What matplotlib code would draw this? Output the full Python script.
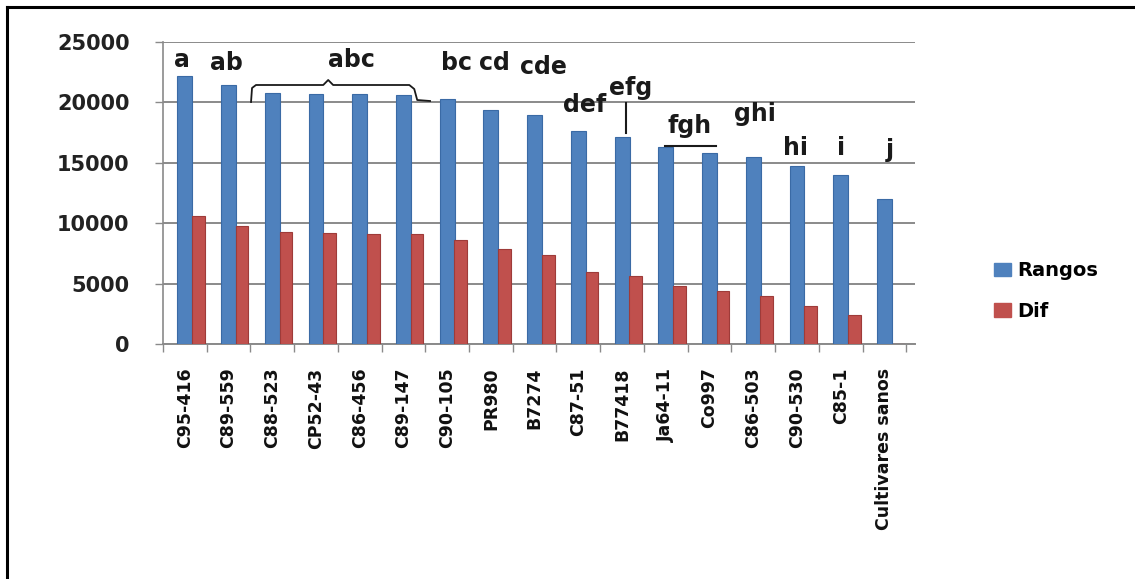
import matplotlib
matplotlib.use("Agg")
import matplotlib.pyplot as plt
from matplotlib.lines import Line2D
from matplotlib.patches import Patch
import numpy as np

categories = ["C95-416", "C89-559", "C88-523", "CP52-43", "C86-456", "C89-147",
              "C90-105", "PR980", "B7274", "C87-51", "B77418", "Ja64-11",
              "Co997", "C86-503", "C90-530", "C85-1", "Cultivares sanos"]
rangos = [22200, 21400, 20800, 20700, 20700, 20650, 20250, 19400, 18950,
          17600, 17100, 16300, 15850, 15500, 14700, 13950, 12000]
dif = [10600, 9800, 9300, 9150, 9100, 9100, 8600, 7850, 7350,
       6000, 5600, 4800, 4350, 3950, 3150, 2400, 0]
letters = ["a", "ab", "abc", "bc", "cd", "cde", "def", "efg", "fgh", "ghi", "hi", "i", "j"]
yticks = [0, 5000, 10000, 15000, 20000, 25000]

BLUE = "#4F81BD"
RED = "#C0504D"
FONT = ["DejaVu Sans"]

fig = plt.figure(figsize=(11.35, 5.79), dpi=100)
ax = fig.add_axes([163/1135, 1-344/579, 752/1135, 302/579])

x = np.arange(len(categories))
ax.bar(x, rangos, width=0.34, color=BLUE, edgecolor="#3A6AA5", linewidth=0.8, zorder=3, label="Rangos")
ax.bar(x + 0.31, dif, width=0.29, color=RED, edgecolor="#9E3B39", linewidth=0.8, zorder=3, label="Dif")

ax.set_xlim(-0.5, len(categories) - 0.3)
ax.set_ylim(0, 25000)
ax.set_yticks(yticks)
ax.set_yticklabels([str(v) for v in yticks], fontsize=15, fontweight="bold", family=FONT, color="#222222")
ax.yaxis.grid(True, color="#8a8a8a", linewidth=1.4, zorder=0)
ax.set_axisbelow(True)

ax.set_xticks(x)
ax.set_xticklabels(categories, rotation=90, fontsize=12.5, fontweight="bold", family=FONT,
                   va="top", color="#111111")
ax.set_xticks(np.arange(len(categories) + 1) - 0.5, minor=True)
ax.tick_params(axis="x", which="major", length=0, pad=17)
ax.tick_params(axis="x", which="minor", length=6, color="#8a8a8a", width=1)
ax.tick_params(axis="y", length=6, color="#8a8a8a", width=1, pad=18)

for s in ["top", "right"]:
    ax.spines[s].set_visible(False)
ax.spines["left"].set_color("#8a8a8a")
ax.spines["bottom"].set_color("#8a8a8a")
ax.spines["left"].set_linewidth(1.2)
ax.spines["bottom"].set_linewidth(1.4)

# significance letters (pixel positions converted to data coordinates)
def px2data(px, py):
    xd = (px - 163) / 44.2 - 0.5
    yd = (344 - py) / 302 * 25000
    return xd, yd

letter_pos = [(182, 60), (227, 63), (354, 60), (460, 63), (498, 63), (548, 67),
              (589, 105), (636, 88), (695, 126), (761, 114), (802, 148), (848, 148), (898, 150)]
for t, (px, py) in zip(letters, letter_pos):
    xd, yd = px2data(px, py)
    ax.text(xd, yd, t, ha="center", va="center", fontsize=17, fontweight="bold",
            family=FONT, color="#1a1a1a", zorder=5, clip_on=False)

# brace over abc group
bx = [252, 253, 257, 325, 330, 335, 412, 417, 420, 433]
by = [102, 88, 85, 85, 80, 85, 85, 89, 100, 101]
bd = [px2data(a, b) for a, b in zip(bx, by)]
ax.plot([p[0] for p in bd], [p[1] for p in bd], color="#1a1a1a", lw=1.3, zorder=5, clip_on=False)

# vertical line under efg
v1 = px2data(631, 103); v2 = px2data(631, 133)
ax.plot([v1[0], v2[0]], [v1[1], v2[1]], color="#1a1a1a", lw=1.5, zorder=5)
# underline of fgh
u1 = px2data(670, 146); u2 = px2data(722, 146)
ax.plot([u1[0], u2[0]], [u1[1], u2[1]], color="#1a1a1a", lw=1.5, zorder=5)

handles = [Patch(facecolor=BLUE, edgecolor=BLUE), Patch(facecolor=RED, edgecolor=RED)]
leg = fig.legend(handles, ["Rangos", "Dif"], loc="center left", bbox_to_anchor=(994/1135, 1-291/579),
                 frameon=False, prop={"family": FONT, "weight": "bold", "size": 14},
                 handlelength=0.85, handleheight=0.7, handletextpad=0.35, labelspacing=1.1,
                 borderpad=0, borderaxespad=0)

# partial outer frame (left and top)
fig.add_artist(Line2D([7/1135, 7/1135], [0, 1-7/579], color="black", lw=2.2, transform=fig.transFigure))
fig.add_artist(Line2D([7/1135, 1], [1-7/579, 1-7/579], color="black", lw=2.2, transform=fig.transFigure))

fig.savefig("out.png", dpi=100)
